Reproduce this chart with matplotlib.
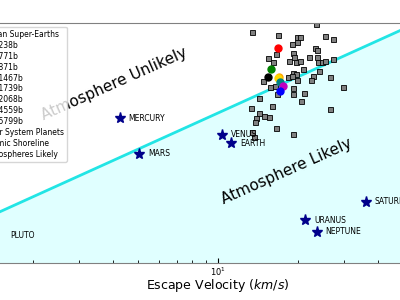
import numpy as np
import matplotlib
matplotlib.use('Agg')
import matplotlib.pyplot as plt

# escape velocity (km/s) and insolation (Earth = 1)
exo_v = [23.4, 13.4, 16.8, 19.9, 20.4, 25.3, 27.2, 19.0, 19.9, 23.2, 23.6, 19.2,
         19.4, 15.5, 16.6, 16.1, 18.5, 19.7, 20.4, 22.0, 23.6, 23.8, 24.7, 25.3,
         27.2, 20.9, 24.0, 19.2, 19.7, 14.8, 18.4, 19.0, 19.9, 22.8, 22.4, 26.5,
         15.7, 16.4, 16.7, 19.2, 19.2, 21.1, 29.6, 14.3, 20.6, 16.0, 13.3, 14.3,
         14.9, 15.6, 13.9, 13.8, 26.5, 16.6, 19.2, 13.4, 13.7]
exo_I = [9300, 5000, 4000, 3400, 3400, 3700, 2940, 2000, 2330, 1470, 1260, 1000,
         735, 680, 925, 500, 540, 500, 540, 735, 735, 500, 500, 540,
         630, 295, 250, 215, 200, 117, 158, 170, 126, 170, 126, 158,
         74, 79, 43, 68, 43, 46, 74, 32, 25, 17, 15, 10,
         8, 7.4, 6.8, 5.0, 13.6, 3.2, 2.0, 2.3, 1.6]

named = ['KOI-238b', 'KOI-771b', 'KOI-871b', 'KOI-1467b', 'KOI-1739b',
         'KOI-2068b', 'KOI-4559b', 'KOI-5799b']
named_v = [16.8, 15.9, 15.5, 17.0, 16.9, 17.1, 17.6, 17.1]
named_I = [1470, 295, 158, 158, 150, 108, 79, 54]
named_c = ['red', 'green', 'black', 'orange', 'gold', 'teal', 'm', 'b']

ss_names = ['MERCURY', 'VENUS', 'EARTH', 'MARS', 'JUPITER', 'SATURN', 'URANUS', 'NEPTUNE']
ss_v = [4.25, 10.36, 11.19, 5.03, 60.2, 36.09, 21.38, 23.56]
ss_I = [6.67, 1.91, 1.0, 0.43, 0.037, 0.011, 0.0027, 0.0011]
pluto_I = 0.00085

# cosmic shoreline end points
shore_v = [1, 100]
shore_I = [1e-3, 1e5]

fig = plt.figure(figsize=(4, 3), dpi=100)
ax = fig.add_axes([-47 / 400., 37 / 300., 530 / 400., 240 / 300.])

ax.fill_between(shore_v, shore_I, 1e-4, color='#e0ffff', zorder=0, label='Atmospheres Likely')
ax.plot(shore_v, shore_I, color='#22e5e5', lw=2, zorder=1, label='Cosmic Shoreline')

ax.plot(exo_v, exo_I, 's', ms=3.6, mfc='gray', mec='k', mew=0.6, zorder=2,
        label='Ocean Super-Earths')
for name, v, I, c in zip(named, named_v, named_I, named_c):
    ax.plot(v, I, 'o', ms=5, color=c, mec=c, zorder=3, label=name)

ax.plot(ss_v, ss_I, '*', ms=8, color='darkblue', mec='darkblue', zorder=3,
        label='Solar System Planets')
for name, v, I in zip(ss_names, ss_v, ss_I):
    ax.text(v * 1.08, I, name, fontsize=5.5, va='center')
ax.text(1.65, pluto_I, 'PLUTO', fontsize=5.5, va='center')

ax.text(4.05, 95, 'Atmosphere Unlikely', fontsize=11, rotation=24,
        ha='center', va='center')
ax.text(18.2, 0.115, 'Atmosphere Likely', fontsize=11, rotation=24,
        ha='center', va='center')

ax.set_xscale('log')
ax.set_yscale('log')
ax.set_xlim(1, 100)
ax.set_ylim(1e-4, 1e4)
ax.set_xlabel('Escape Velocity ($km/s$)', fontsize=9, labelpad=-1)
ax.tick_params(which='both', direction='in', labelsize=6, pad=2)
for s in ax.spines.values():
    s.set_color('0.5')

h, l = ax.get_legend_handles_labels()
order = [2] + list(range(3, 11)) + [11, 1, 0]
ax.legend([h[i] for i in order], [l[i] for i in order], loc='upper left',
          fontsize=5.5, numpoints=1, labelspacing=0.25, handletextpad=1.0)

fig.savefig('out.png', dpi=100)
